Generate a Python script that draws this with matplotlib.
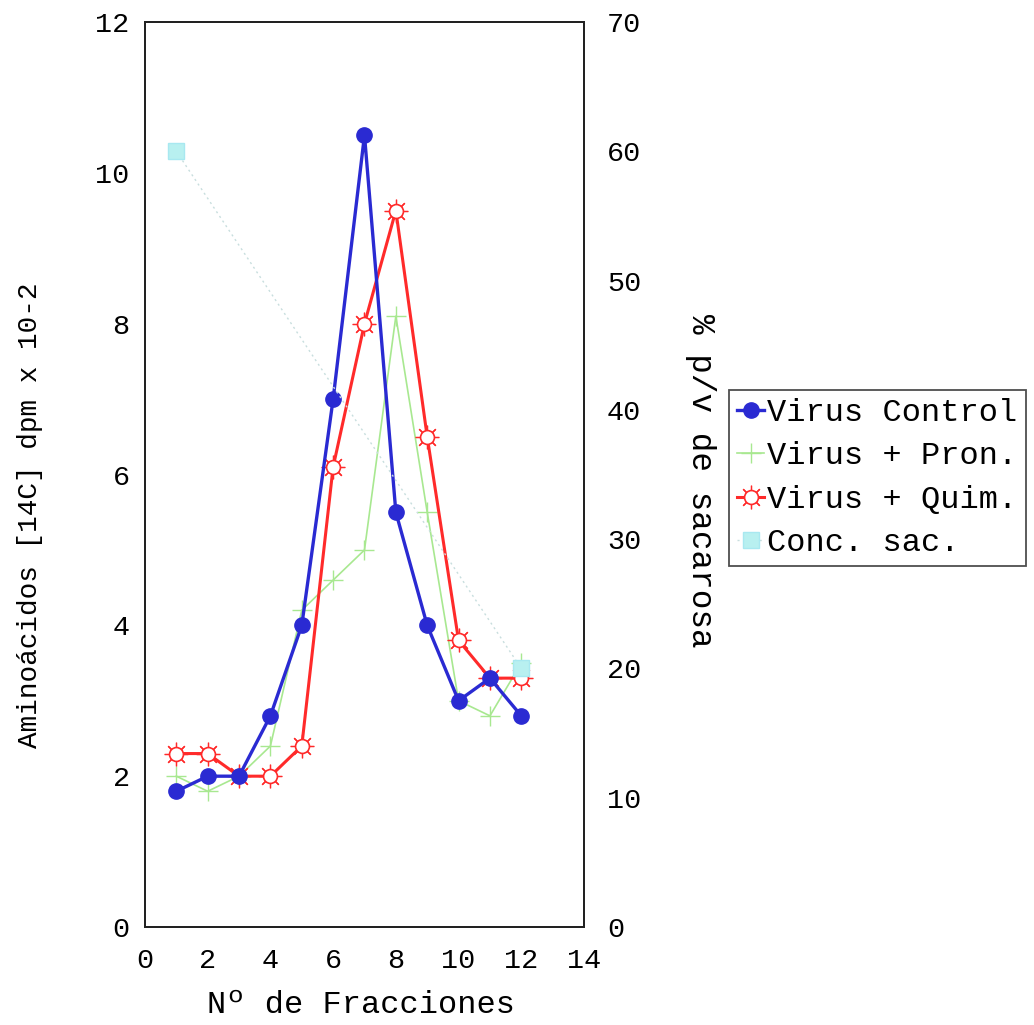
import matplotlib
matplotlib.use("Agg")
import matplotlib.pyplot as plt
from matplotlib.legend_handler import HandlerTuple

fractions = [1, 2, 3, 4, 5, 6, 7, 8, 9, 10, 11, 12]
virus_control = [1.8, 2.0, 2.0, 2.8, 4.0, 7.0, 10.5, 5.5, 4.0, 3.0, 3.3, 2.8]
virus_pron = [2.0, 1.8, 2.0, 2.4, 4.2, 4.6, 5.0, 8.1, 5.5, 3.0, 2.8, 3.5]
virus_quim = [2.3, 2.3, 2.0, 2.0, 2.4, 6.1, 8.0, 9.5, 6.5, 3.8, 3.3, 3.3]
sac_x = [1, 12]
sac_conc = [60, 20]

labels = ["Virus Control", "Virus + Pron.", "Virus + Quim.", "Conc. sac."]
font = "Liberation Mono"
plt.rcParams['font.family'] = [font, 'DejaVu Sans']

fig = plt.figure(figsize=(10.34, 10.25), dpi=100)
ax = fig.add_axes([0.1402, 0.0956, 0.4246, 0.8829])
ax2 = ax.twinx()

blue = "#2a2ad2"
red = "#ff2a2a"
green = "#a8e890"
cyan = "#b8f0f0"

l1, = ax.plot(fractions, virus_control, color=blue, lw=2.4, marker='o', ms=11,
              mfc=blue, mec=blue, zorder=5)
l2, = ax.plot(fractions, virus_pron, color=green, lw=1.2, marker='+', ms=14,
              mew=1.0, zorder=3)
l3a, = ax.plot(fractions, virus_quim, color=red, lw=2.2, marker=(8, 2, 0), ms=17,
               mew=0.9, zorder=4)
l3b, = ax.plot(fractions, virus_quim, color=red, lw=0, marker='o', ms=10,
               mfc='white', mec=red, mew=1.2, zorder=4.5)
l4, = ax2.plot(sac_x, sac_conc, color="#c8dede", lw=1.0, ls=(0, (1.5, 2.5)),
               marker='s', ms=11, mfc=cyan, mec="#a8e8f0", zorder=2)

ax.set_xlim(0, 14)
ax.set_ylim(0, 12)
ax2.set_ylim(0, 70)
ax.set_xticks(range(0, 15, 2))
ax.set_yticks(range(0, 13, 2))
ax2.set_yticks(range(0, 71, 10))

ax.tick_params(axis='y', length=0, labelsize=20.5, pad=11)
ax.tick_params(axis='x', length=0, labelsize=20.5, pad=15)
ax2.tick_params(axis='y', length=0, labelsize=20.5, pad=16.5)

for a in (ax, ax2):
    for s in a.spines.values():
        s.set_linewidth(1.4)
        s.set_color("#222222")

fig.text(0.349, 0.0195, "Nº de Fracciones", fontsize=23, ha='center', va='center')
fig.text(0.029, 0.4976, "Aminoácidos [14C] dpm x 10-2", fontsize=20,
         rotation=90, ha='center', va='center')
fig.text(0.677, 0.5307, "% p/v de sacarosa", fontsize=23.5,
         rotation=270, ha='center', va='center')

leg = fig.legend([l1, l2, (l3a, l3b), l4], labels,
                 handler_map={tuple: HandlerTuple(ndivide=1, pad=0)},
                 loc='upper left', bbox_to_anchor=(0.705, 0.6195),
                 fontsize=23, frameon=True, fancybox=False, edgecolor='#222222',
                 handlelength=0.85, handletextpad=0.1, borderpad=0.25,
                 labelspacing=0.42, borderaxespad=0)
leg.get_frame().set_linewidth(1.3)

fig.savefig("out.png", dpi=100)
